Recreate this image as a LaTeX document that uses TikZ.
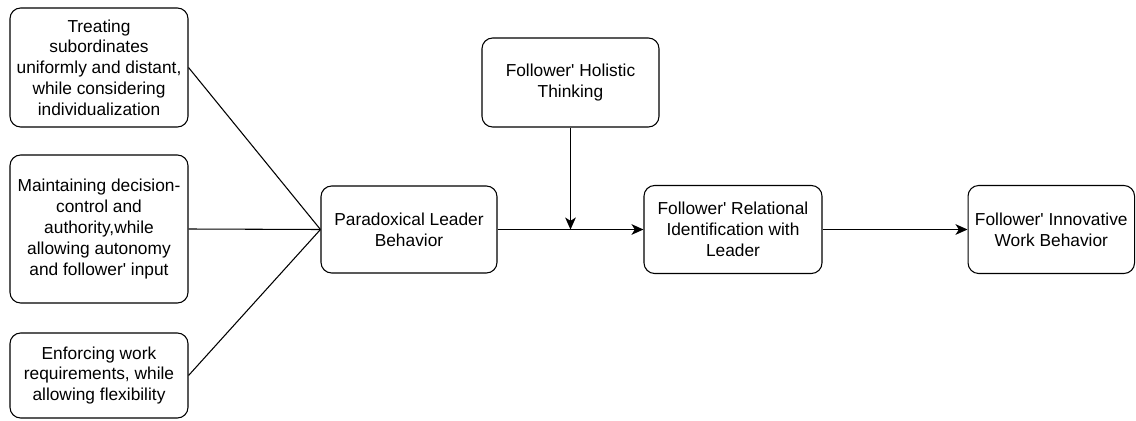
\documentclass[tikz,border=0pt]{standalone}
\usepackage{fontspec}
\setmainfont{Liberation Sans}[Ligatures=TeXOff]
\usetikzlibrary{arrows.meta}
\tikzset{
  box/.style={draw, rounded corners=8pt, line width=0.8pt, align=center,
    font=\fontsize{13}{15.6}\selectfont, inner sep=0pt},
  conn/.style={line width=0.8pt},
  arr/.style={conn, -{Stealth[length=9pt,width=8pt,inset=2.5pt]}}
}
\begin{document}
\begin{tikzpicture}[x=0.75pt,y=-0.75pt]
\useasboundingbox (0,0) rectangle (1136,421);
\node[box, minimum width=133.5pt, minimum height=89.25pt] (t) at (99,67.5)
  {Treating\\subordinates\\uniformly and distant,\\while considering\\individualization};
\node[box, minimum width=133.5pt, minimum height=111pt] (m) at (99,229)
  {Maintaining decision-\\control and\\authority,while\\allowing autonomy\\and follower' input};
\node[box, minimum width=133.5pt, minimum height=63.75pt] (e) at (99,375.5)
  {Enforcing work\\requirements, while\\allowing flexibility};
\node[box, minimum width=132pt, minimum height=65.25pt] (p) at (409,229.5)
  {Paradoxical Leader\\Behavior};
\node[box, minimum width=132.75pt, minimum height=66.75pt] (h) at (570.5,82.5)
  {Follower' Holistic\\Thinking};
\node[box, minimum width=133.5pt, minimum height=66pt] (r) at (733,229.5)
  {Follower' Relational\\Identification with\\Leader};
\node[box, minimum width=124.9pt, minimum height=66pt] (i) at (1051.3,229.5)
  {Follower' Innovative\\Work Behavior};
\coordinate (j) at (h.south |- p.east);
\draw[conn] (t.east) -- (p.west);
\draw[conn] (m.east) -- (p.west);
\draw[conn] (e.east) -- (p.west);
\draw[arr] (p.east) -- (r.west);
\draw[arr] (h.south) -- (j);
\draw[arr] (r.east) -- (i.west);
\end{tikzpicture}
\end{document}
